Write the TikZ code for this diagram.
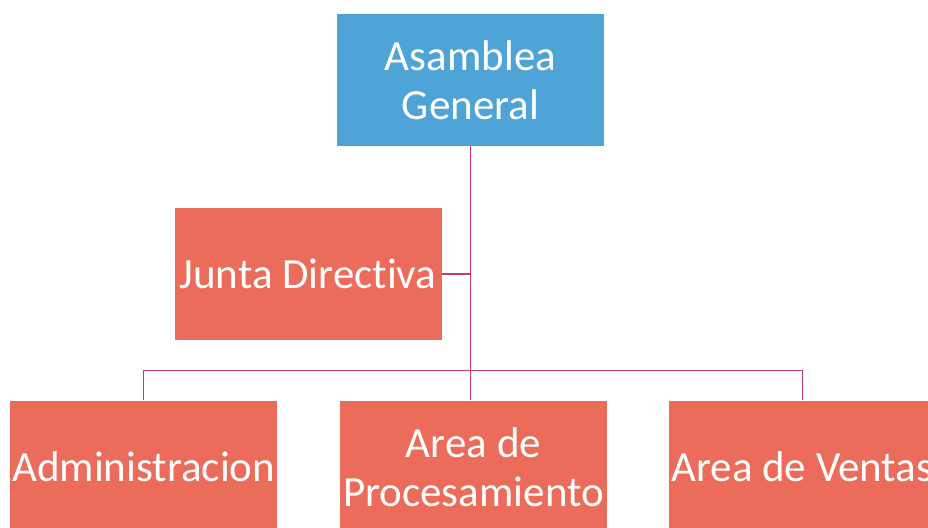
\documentclass[tikz,border=0pt]{standalone}
\usepackage{fontspec}
\setmainfont[Ligatures={NoCommon}]{Carlito}
\usepackage{tikz}
\usetikzlibrary{positioning}
\definecolor{azul}{RGB}{78,164,214}
\definecolor{rojo}{RGB}{236,108,92}
\definecolor{linea}{RGB}{200,60,95}

\begin{document}
\begin{tikzpicture}[auto,node distance=31pt]
	\tikzstyle{caja}=[rectangle,minimum width=133.5pt,minimum height=66pt,inner sep=0pt,text=white,align=center,font=\fontsize{21.5}{24.5}\selectfont]
	\tikzstyle{enlace}=[draw=linea,line width=0.6pt]
	\useasboundingbox (0,0) rectangle (464pt,-264pt);
	\clip (0,0) rectangle (464pt,-264pt);
		\node[caja, fill=azul] (ag) at (235.25pt,-40pt) {Asamblea\\General};
		\node[caja, fill=rojo] (jd) at (154pt,-137pt) {Junta Directiva};
		\node[caja, fill=rojo, xshift=1.5pt] (proc) [below=127pt of ag.south, anchor=north] {Area de\\Procesamiento};
		\node[caja, fill=rojo] (adm) [left=31pt of proc] {Administracion};
		\node[caja, fill=rojo] (ventas) [right=30.5pt of proc] {Area de Ventas};
			\draw[enlace] (ag.south) -- (ag.south |- proc.north);
			\draw[enlace] (jd.east) -- (jd.east -| ag.south);
			\draw[enlace] (adm.north) -- ++(0,15pt) -| (ventas.north);
\end{tikzpicture}
\end{document}
